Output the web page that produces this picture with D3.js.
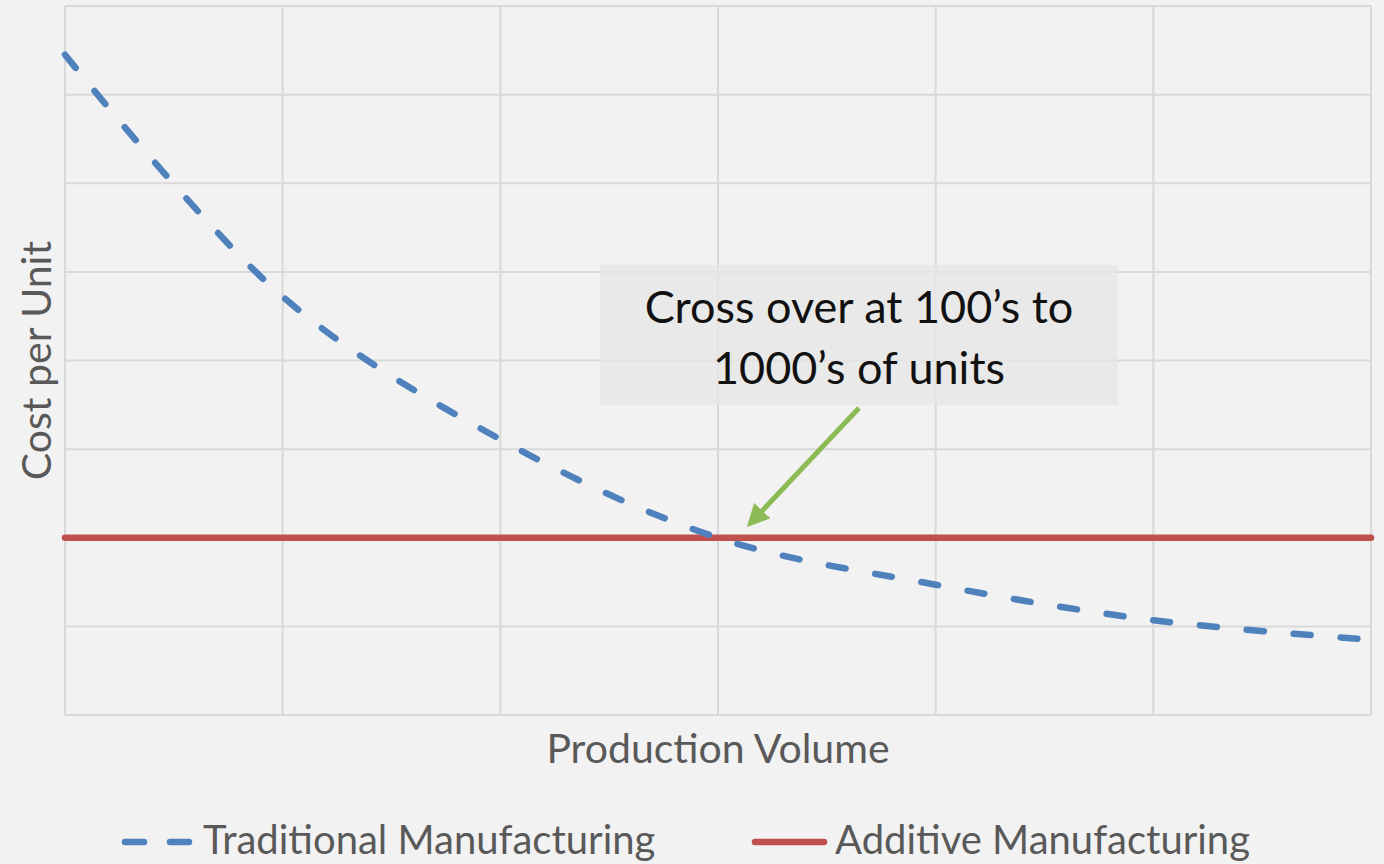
<!DOCTYPE html>
<meta charset="utf-8">
<style>
body { margin: 0; background: #f2f2f2; }
svg { display: block; font-family: Lato, "Open Sans", sans-serif; }
</style>
<body>
<svg id="chart" width="1384" height="864"></svg>
<script src="https://cdn.jsdelivr.net/npm/d3@7"></script>
<script>

// production volume steps (no tick labels shown in the original)
var volumes = [0, 1, 2, 3, 4, 5, 6];
var traditional = [7.45, 4.72, 3.11, 2.0, 1.47, 1.07, 0.85];
var additive = [2, 2, 2, 2, 2, 2, 2];
var yTicks = [0, 1, 2, 3, 4, 5, 6, 7, 8];
var seriesNames = ["Traditional Manufacturing", "Additive Manufacturing"];
var note = ["Cross over at 100\u2019s to", "1000\u2019s of units"];

var svg = d3.select("#chart");
var plotL = 65, plotR = 1371, plotT = 6, plotB = 715;

var x = d3.scaleLinear().domain([0, 6]).range([plotL, plotR]);
var y = d3.scaleLinear().domain([0, 8]).range([plotB, plotT]);

svg.append("rect").attr("width", 1384).attr("height", 864).attr("fill", "#f2f2f2");

// gridlines
var grid = svg.append("g").attr("stroke", "#d9d9d9").attr("stroke-width", 2);
grid.selectAll(".h").data(yTicks).enter().append("line")
    .attr("x1", plotL).attr("x2", plotR)
    .attr("y1", d => y(d)).attr("y2", d => y(d));
grid.selectAll(".v").data(volumes).enter().append("line")
    .attr("y1", plotT).attr("y2", plotB)
    .attr("x1", d => x(d)).attr("x2", d => x(d));

var line = d3.line()
    .x((d, i) => x(volumes[i]))
    .y(d => y(d))
    .curve(d3.curveCatmullRom);

svg.append("path").datum(additive)
    .attr("d", line)
    .attr("fill", "none")
    .attr("stroke", "#c0504d")
    .attr("stroke-width", 6.5)
    .attr("stroke-linecap", "round");

svg.append("path").datum(traditional)
    .attr("d", line)
    .attr("fill", "none")
    .attr("stroke", "#4f81bd")
    .attr("stroke-width", 6.5)
    .attr("stroke-linecap", "round")
    .attr("stroke-dasharray", "17 30");

// annotation box
svg.append("rect")
    .attr("x", 600).attr("y", 265).attr("width", 518).attr("height", 140)
    .attr("fill", "#e6e6e6").attr("fill-opacity", 0.75);
svg.selectAll(".note").data(note).enter().append("text")
    .attr("x", 859).attr("y", (d, i) => 323 + i * 61)
    .attr("text-anchor", "middle")
    .attr("font-size", 45)
    .attr("fill", "#111")
    .text(d => d);

// arrow
svg.append("defs").append("marker")
    .attr("id", "head").attr("viewBox", "0 0 10 10")
    .attr("refX", 8).attr("refY", 5)
    .attr("markerWidth", 4.5).attr("markerHeight", 4.5)
    .attr("orient", "auto")
  .append("path").attr("d", "M0,0 L10,5 L0,10 z").attr("fill", "#8cbb55");
svg.append("line")
    .attr("x1", 859).attr("y1", 408)
    .attr("x2", x(3) + 32).attr("y2", y(2) - 14)
    .attr("stroke", "#8cbb55").attr("stroke-width", 5)
    .attr("marker-end", "url(#head)");

// axis titles
svg.append("text")
    .attr("transform", "translate(51," + (plotT + plotB) / 2 + ") rotate(-90)")
    .attr("text-anchor", "middle")
    .attr("font-size", 41).attr("fill", "#595959")
    .text("Cost per Unit");
svg.append("text")
    .attr("x", (plotL + plotR) / 2).attr("y", 763)
    .attr("text-anchor", "middle")
    .attr("font-size", 41).attr("fill", "#595959")
    .text("Production Volume");

// legend
var lg = svg.append("g");
lg.append("line").attr("x1", 125).attr("x2", 192).attr("y1", 842).attr("y2", 842)
    .attr("stroke", "#4f81bd").attr("stroke-width", 6.5).attr("stroke-linecap", "round")
    .attr("stroke-dasharray", "19 26");
lg.append("text").attr("x", 203).attr("y", 854)
    .attr("font-size", 40).attr("fill", "#595959").text(seriesNames[0]);
lg.append("line").attr("x1", 755).attr("x2", 824).attr("y1", 842).attr("y2", 842)
    .attr("stroke", "#c0504d").attr("stroke-width", 6.5).attr("stroke-linecap", "round");
lg.append("text").attr("x", 835).attr("y", 854)
    .attr("font-size", 40).attr("fill", "#595959").text(seriesNames[1]);

</script>
</body>
